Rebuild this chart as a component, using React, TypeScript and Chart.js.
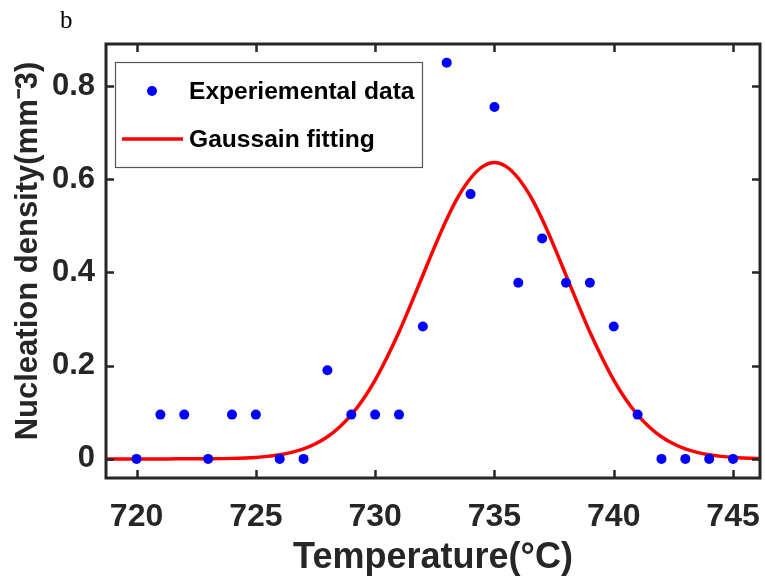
import React, { useEffect, useRef } from "react";
import { Chart, registerables } from "chart.js";

Chart.register(...registerables);

const temps = [720, 721, 722, 723, 724, 725, 726, 727, 728, 729, 730, 731, 732, 733, 734, 735, 736, 737, 738, 739, 740, 741, 742, 743, 744, 745];
const density = [0, 0.095, 0.095, 0, 0.095, 0.095, 0, 0, 0.19, 0.095, 0.095, 0.095, 0.284, 0.85, 0.568, 0.755, 0.378, 0.473, 0.378, 0.378, 0.284, 0.095, 0, 0, 0, 0];

const fitTemps = [718, 719, 720, 721, 722, 723, 724, 725, 725.5, 726, 726.5, 727, 727.5, 728, 728.5, 729, 729.5, 730, 730.5, 731, 731.5, 732, 732.5, 733, 733.5, 734, 734.5, 735, 735.5, 736, 736.5, 737, 737.5, 738, 738.5, 739, 739.5, 740, 740.5, 741, 741.5, 742, 742.5, 743, 743.5, 744, 744.5, 745, 746, 747];
const fitDensity = [0, 0, 0, 0, 0.0001, 0.0003, 0.0011, 0.0032, 0.0054, 0.0088, 0.0139, 0.0215, 0.0324, 0.0475, 0.068, 0.0945, 0.128, 0.169, 0.218, 0.272, 0.332, 0.394, 0.456, 0.514, 0.564, 0.602, 0.627, 0.636, 0.627, 0.602, 0.564, 0.514, 0.456, 0.394, 0.332, 0.272, 0.218, 0.169, 0.128, 0.0945, 0.068, 0.0475, 0.0324, 0.0215, 0.0139, 0.0088, 0.0054, 0.0032, 0.0011, 0.0003];

const xTickValues = [720, 725, 730, 735, 740, 745];
const yTickValues = [0, 0.2, 0.4, 0.6, 0.8];

const seriesNames = ["Experiemental data", "Gaussain fitting"];
const xTitle = "Temperature(\u00B0C)";
const yTitle = "Nucleation density(mm\u207B3)";
const panelLabel = "b";

const AXIS_COLOR = "#262626";
const FONT = "'Liberation Sans', Arial, Helvetica, sans-serif";

const framePlugin = {
  id: "frame",
  afterDatasetsDraw(chart: any) {
    const { ctx, chartArea } = chart;
    const { left, right, top, bottom } = chartArea;
    const xs = chart.scales.x;
    const ys = chart.scales.y;
    ctx.save();
    ctx.strokeStyle = AXIS_COLOR;
    ctx.lineWidth = 2.5;
    ctx.lineCap = "butt";
    const tl = 8;
    ctx.beginPath();
    xTickValues.forEach((v) => {
      const px = Math.round(xs.getPixelForValue(v)) + 0.5;
      ctx.moveTo(px, bottom);
      ctx.lineTo(px, bottom - tl);
      ctx.moveTo(px, top);
      ctx.lineTo(px, top + tl);
    });
    yTickValues.forEach((v) => {
      const py = Math.round(ys.getPixelForValue(v)) + 0.5;
      ctx.moveTo(left, py);
      ctx.lineTo(left + tl, py);
      ctx.moveTo(right, py);
      ctx.lineTo(right - tl, py);
    });
    ctx.stroke();
    ctx.lineWidth = 3;
    ctx.strokeRect(left, top, right - left, bottom - top);

    // legend
    const lx = left + 9.5;
    const ly = top + 18.5;
    const lw = 307;
    const lh = 105;
    ctx.fillStyle = "#ffffff";
    ctx.fillRect(lx, ly, lw, lh);
    ctx.strokeStyle = "#555555";
    ctx.lineWidth = 1.2;
    ctx.strokeRect(lx, ly, lw, lh);

    const ds0 = chart.data.datasets[0];
    const ds1 = chart.data.datasets[1];
    ctx.fillStyle = ds0.backgroundColor;
    ctx.beginPath();
    ctx.arc(left + 46, top + 47, 5, 0, Math.PI * 2);
    ctx.fill();
    ctx.strokeStyle = ds1.borderColor;
    ctx.lineWidth = ds1.borderWidth;
    ctx.beginPath();
    ctx.moveTo(left + 16, top + 95);
    ctx.lineTo(left + 77, top + 95);
    ctx.stroke();

    ctx.fillStyle = "#000000";
    ctx.font = `bold 24.6px ${FONT}`;
    ctx.textBaseline = "middle";
    ctx.textAlign = "left";
    ctx.fillText(ds0.label, left + 83, top + 48);
    ctx.fillText(ds1.label, left + 83, top + 96);

    // y axis title
    ctx.save();
    ctx.translate(28, 251);
    ctx.rotate(-Math.PI / 2);
    ctx.fillStyle = AXIS_COLOR;
    ctx.font = `bold 31px ${FONT}`;
    ctx.textAlign = "center";
    ctx.textBaseline = "middle";
    ctx.fillText(yTitle, 0, 0);
    ctx.restore();

    // panel label
    ctx.fillStyle = "#000000";
    ctx.font = `25px 'Liberation Serif', 'Times New Roman', serif`;
    ctx.textBaseline = "alphabetic";
    ctx.textAlign = "left";
    ctx.fillText(panelLabel, 60, 28);
    ctx.restore();
  },
};

export default function App() {
  const ref = useRef<HTMLCanvasElement | null>(null);
  useEffect(() => {
    if (!ref.current) return;
    const chart = new Chart(ref.current, {
      type: "scatter",
      data: {
        datasets: [
          {
            label: seriesNames[0],
            data: temps.map((t, i) => ({ x: t, y: density[i] })),
            backgroundColor: "#0000ff",
            borderColor: "#0000ff",
            pointRadius: 5,
            pointBorderWidth: 0,
            showLine: false,
            order: 1,
          },
          {
            label: seriesNames[1],
            type: "line",
            data: fitTemps.map((t, i) => ({ x: t, y: fitDensity[i] })),
            borderColor: "#ff0000",
            backgroundColor: "#ff0000",
            borderWidth: 3.5,
            pointRadius: 0,
            tension: 0,
            cubicInterpolationMode: "monotone",
            fill: false,
            order: 2,
          } as any,
        ],
      },
      options: {
        responsive: false,
        animation: false,
        devicePixelRatio: 1,
        layout: { padding: { left: 0, top: 44, right: 4, bottom: 0 } },
        plugins: {
          legend: { display: false },
          tooltip: { enabled: false },
        },
        scales: {
          x: {
            type: "linear",
            min: 718.72,
            max: 746.13,
            afterBuildTicks: (s: any) => {
              s.ticks = xTickValues.map((v) => ({ value: v }));
            },
            afterFit: (s: any) => {
              s.height = 104;
              s.paddingLeft = 0;
              s.paddingRight = 0;
            },
            grid: { display: false, drawTicks: false },
            border: { display: false },
            ticks: {
              color: AXIS_COLOR,
              font: { family: FONT, size: 32, weight: "bold" },
              padding: 20,
              maxRotation: 0,
              autoSkip: false,
              callback: (v: any) => String(v),
            },
            title: {
              display: true,
              text: xTitle,
              color: AXIS_COLOR,
              font: { family: FONT, size: 36, weight: "bold" },
              padding: { top: 0, bottom: 2 },
            },
          },
          y: {
            type: "linear",
            min: -0.041,
            max: 0.89,
            afterBuildTicks: (s: any) => {
              s.ticks = yTickValues.map((v) => ({ value: v }));
            },
            afterFit: (s: any) => {
              s.width = 106;
              s.paddingTop = 0;
              s.paddingBottom = 0;
            },
            grid: { display: false, drawTicks: false },
            border: { display: false },
            ticks: {
              color: AXIS_COLOR,
              font: { family: FONT, size: 31, weight: "bold" },
              padding: 11,
              autoSkip: false,
              callback: (v: any) => String(v),
            },
            title: { display: false },
          },
        },
      },
      plugins: [framePlugin],
    });
    return () => chart.destroy();
  }, []);
  return (
    <div style={{ position: "absolute", left: 0, top: 0, width: 765, height: 582, background: "#fff" }}>
      <canvas ref={ref} width={765} height={582} style={{ display: "block" }} />
    </div>
  );
}
